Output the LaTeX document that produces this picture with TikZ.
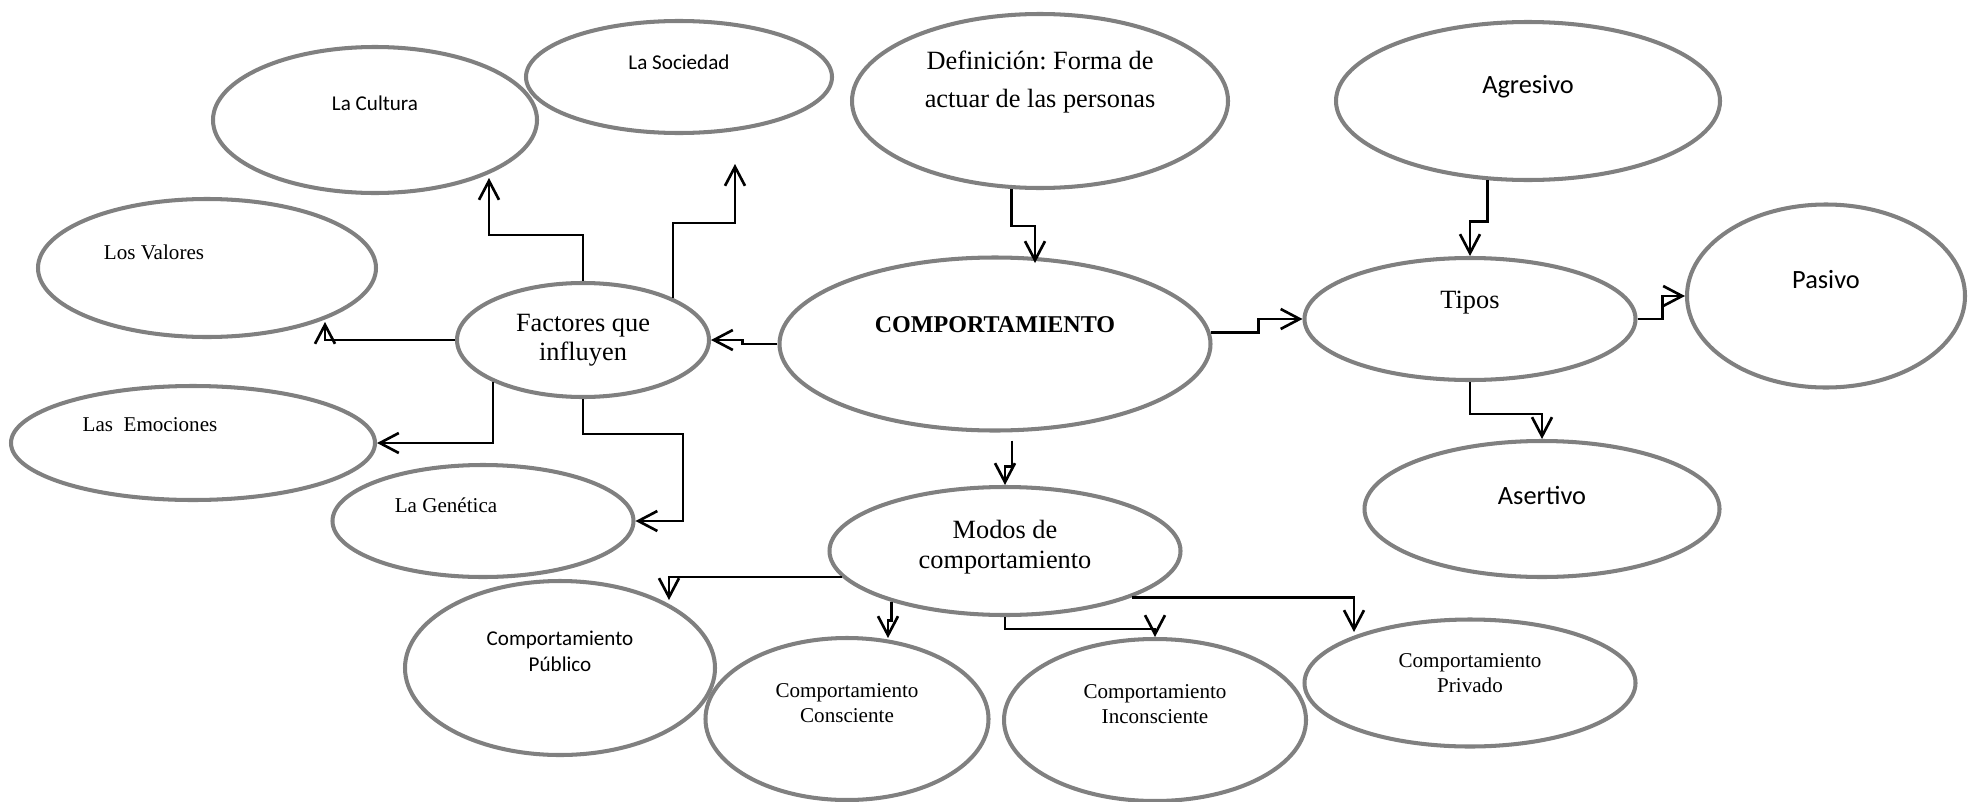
\documentclass[tikz,border=0pt]{standalone}
\usepackage{fontspec}
\setmainfont{Liberation Serif}
\newfontfamily\calibri{Carlito}
\usetikzlibrary{shapes.geometric,arrows.meta}
\definecolor{ringgray}{RGB}{128,128,128}
\frenchspacing
\tikzset{
  bubble/.style={ellipse, draw=ringgray, line width=2.3pt, inner sep=0pt},
  oval/.style 2 args={minimum width=#1*0.02cm, minimum height=#2*0.02cm},
  sanstext/.style={font=\calibri\fontsize{12}{14.6}\selectfont, align=center},
  bigsans/.style={font=\calibri\fontsize{15}{18}\selectfont, align=center},
  serifcap/.style={font=\fontsize{12}{14.2}\selectfont, align=center},
  bigserif/.style={font=\fontsize{15}{17}\selectfont, align=center},
}
\begin{document}
\begin{tikzpicture}[x=0.02cm, y=-0.02cm, line width=1.5pt,
    >={Straight Barb[length=0.38cm,width=0.4cm]}]
  \useasboundingbox (0,0) rectangle (1970,801);
  \draw
    (375,120) node[bubble, oval={324}{146}, label={[sanstext, shift={(0,-17)}]center:La Cultura}] (0){}
    (679,77) node[bubble, oval={306}{112}, label={[sanstext, shift={(0,-15)}]center:La Sociedad}] (1){}
    (207,268) node[bubble, oval={338}{138}, label={[serifcap, shift={(-53,-16)}]center:Los Valores}] (2){}
    (583,340) node[bubble, oval={252}{114}, bigserif, font=\fontsize{15}{16.5}\selectfont] (3){Factores que\\influyen}
    (193,443) node[bubble, oval={364}{114}, label={[serifcap, shift={(-43,-18)}]center:Las~~Emociones}] (4){}
    (483,521) node[bubble, oval={301}{112}, label={[serifcap, shift={(-37,-16)}]center:La Genética}] (5){}
    (995,344) node[bubble, oval={431}{173}, label={[font=\bfseries\fontsize{13.7}{16}\selectfont, shift={(0,-19)}]center:COMPORTAMIENTO}] (6){}
    (1040,101) node[bubble, oval={376}{174}, label={[bigserif, font=\fontsize{15}{21.4}\selectfont, shift={(0,-19)}]center:Definición: Forma de\\actuar de las personas}] (7){}
    (1528,101) node[bubble, oval={384}{158}, label={[bigsans, shift={(0,-14)}]center:Agresivo}] (8){}
    (1470,319) node[bubble, oval={331}{122}, label={[bigserif, shift={(0,-16)}]center:Tipos}] (9){}
    (1826,296) node[bubble, oval={278}{183}, label={[bigsans, shift={(0,-16)}]center:Pasivo}] (10){}
    (1542,509) node[bubble, oval={355}{136}, label={[bigsans, shift={(0,-14)}]center:Asertivo}] (11){}
    (1005,551) node[bubble, oval={351}{128}, label={[bigserif, shift={(0,-4)}]center:Modos de\\comportamiento}] (12){}
    (560,668) node[bubble, oval={310}{174}, label={[sanstext, shift={(0,-17)}]center:Comportamiento\\Público}] (13){}
    (847,719) node[bubble, oval={283}{162}, label={[serifcap, shift={(0,-16)}]center:Comportamiento\\Consciente}] (14){}
    (1155,720) node[bubble, oval={302}{162}, label={[serifcap, shift={(0,-16)}]center:Comportamiento\\Inconsciente}] (15){}
    (1470,683) node[bubble, oval={331}{127}, label={[serifcap, shift={(0,-10)}]center:Comportamiento\\Privado}] (16){};
  \coordinate (a0) at (489,178);
  \coordinate (a1) at (735,164);
  \coordinate (a2) at (325,322);
  \coordinate (a7) at (1035,263);
  \coordinate (a13) at (669,600);
  \coordinate (a14) at (888,638);
  \coordinate (a16) at (1354,632);
  \begin{scope}[->]
    \draw (3.north) -- ++(0,-46) -| (a0);
    \draw (3.25) -- ++(0,-75) -| (a1);
    \draw (3.west) -| (a2);
    \draw (3.205) |- (4.east);
    \draw (3.south) -- ++(0,35) -- ++(100,0) |- (5.east);
    \draw (6.west) -- ++(-35,0) |- (3.east);
    \draw (7.252) -- ++(0,37) -| (a7);
    \draw (6.3) -- ++(48,0) |- (9.west);
    \draw (8.243) -- ++(0,41) -| (9.north);
    \draw (9.east) -- ++(25,0) |- (10.west);
    \draw (9.south) -- ++(0,32) -| (11.north);
    \draw ([shift={(17,8)}]6.south) -- ++(0,26) -| (12.north);
    \draw (12.189) -| (a13);
    \draw (12.204) -- ++(0,19) -| (a14);
    \draw (12.south) -- ++(0,12) -| (15.north);
    \draw (12.-20) -| (a16);
  \end{scope}
\end{tikzpicture}
\end{document}
